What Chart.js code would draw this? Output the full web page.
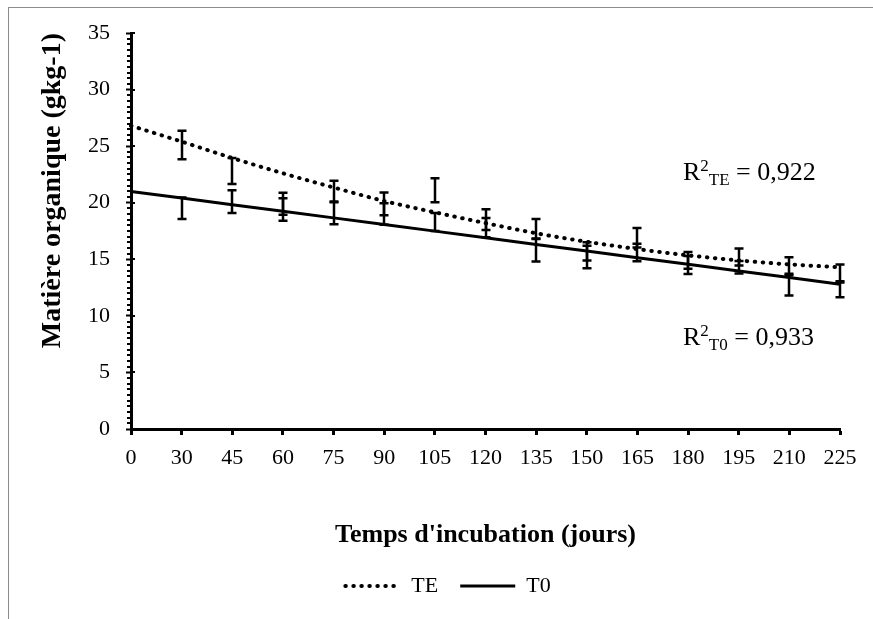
<!DOCTYPE html>
<html><head><meta charset="utf-8">
<script src="https://cdn.jsdelivr.net/npm/chart.js@4.4.0/dist/chart.umd.min.js"></script>
<style>
html,body{margin:0;padding:0;background:#fff;overflow:hidden;}
#wrap{position:relative;width:873px;height:619px;}
#frame{position:absolute;left:8px;top:7px;width:870px;height:620px;border:1px solid #8c8c8c;box-sizing:border-box;}
canvas{position:absolute;left:0;top:0;}
</style></head>
<body><div id="wrap"><div id="frame"></div><canvas id="c" width="873" height="619"></canvas></div>
<script>
// ---- data ----
const categories = ['0','30','45','60','75','90','105','120','135','150','165','180','195','210','225'];
const teMean = [null, 25.1, 22.8, 19.9, 21.0, 19.9, 21.1, 18.5, 17.7, 15.7, 16.9, 14.9, 15.2, 14.45, 13.8];
const teErr  = [null, 1.25, 1.15, 0.97, 0.95, 1.0, 1.07, 0.92, 0.87, 0.8, 0.86, 0.74, 0.75, 0.72, 0.75];
const t0Mean = [null, 19.5, 20.1, 19.4, 19.1, 19.0, 18.3, 17.8, 15.8, 15.2, 15.6, 14.5, 14.3, 12.7, 12.3];
const t0Err  = [null, 0.95, 1.0, 1.0, 1.0, 0.95, 0.8, 0.86, 1.0, 1.0, 0.78, 0.79, 0.55, 0.9, 0.65];
const teTrend = [26.8, 25.4, 23.95, 22.6, 21.35, 20.15, 19.15, 18.2, 17.3, 16.55, 15.9, 15.35, 14.9, 14.55, 14.3];
const t0Trend = [21.0, 20.41, 19.83, 19.24, 18.66, 18.07, 17.49, 16.9, 16.31, 15.73, 15.14, 14.56, 13.97, 13.39, 12.8];
const yTicksMin = 0, yTicksMax = 35, yStep = 5, yMinorStep = 0.5;
const r2Labels = [
  {sub: 'TE', value: ' = 0,922'},
  {sub: 'T0', value: ' = 0,933'}
];

const FONT = "'Liberation Serif', 'Times New Roman', serif";

const errorBarPlugin = {
  id: 'errorBars',
  afterDatasetsDraw(chart) {
    const {ctx, scales: {x, y}} = chart;
    ctx.save();
    ctx.strokeStyle = '#000';
    ctx.lineWidth = 2.5;
    chart.data.datasets.forEach(ds => {
      if (!ds.errors) return;
      ds.data.forEach((v, i) => {
        if (v == null) return;
        const e = ds.errors[i];
        const px = Math.round(x.getPixelForValue(i));
        const yt = y.getPixelForValue(v + e), yb = y.getPixelForValue(v - e);
        ctx.beginPath();
        ctx.moveTo(px, yt); ctx.lineTo(px, yb);
        ctx.moveTo(px - 4.5, yt); ctx.lineTo(px + 4.5, yt);
        ctx.moveTo(px - 4.5, yb); ctx.lineTo(px + 4.5, yb);
        ctx.stroke();
      });
    });
    ctx.restore();
  }
};

const minorTickPlugin = {
  id: 'minorTicks',
  afterDraw(chart) {
    const {ctx, scales: {y}} = chart;
    const left = chart.chartArea.left;
    ctx.save();
    ctx.strokeStyle = '#000';
    ctx.lineWidth = 2;
    ctx.beginPath();
    for (let v = yTicksMin; v <= yTicksMax + 1e-9; v += yMinorStep) {
      const py = Math.round(y.getPixelForValue(v));
      if (Math.abs(v / yStep - Math.round(v / yStep)) < 1e-9) {
        ctx.moveTo(left, py); ctx.lineTo(left + 4, py);
      } else {
        ctx.moveTo(left - 4, py); ctx.lineTo(left, py);
      }
    }
    ctx.stroke();
    ctx.restore();
  }
};

const r2Plugin = {
  id: 'r2Text',
  afterDraw(chart) {
    const {ctx, scales: {x, y}} = chart;
    const anchors = [{xi: 10.9, yv: 22.05}, {xi: 10.9, yv: 7.45}];
    ctx.save();
    ctx.fillStyle = '#000';
    ctx.textBaseline = 'alphabetic';
    ctx.textAlign = 'left';
    r2Labels.forEach((lab, k) => {
      let px = x.getPixelForValue(anchors[k].xi);
      const py = y.getPixelForValue(anchors[k].yv);
      ctx.font = '26px ' + FONT;
      ctx.fillText('R', px, py); px += ctx.measureText('R').width;
      ctx.font = '17px ' + FONT;
      ctx.fillText('2', px, py - 9); px += ctx.measureText('2').width;
      ctx.fillText(lab.sub, px, py + 5); px += ctx.measureText(lab.sub).width;
      ctx.font = '26px ' + FONT;
      ctx.fillText(lab.value, px, py);
    });
    ctx.restore();
  }
};

const legendShift = {
  id: 'legendShift',
  afterLayout(chart) {
    const lg = chart.legend;
    if (lg) { lg.left += 24; lg.right += 24; }
  }
};

new Chart(document.getElementById('c'), {
  type: 'line',
  data: {
    labels: categories,
    datasets: [
      {label: 'TE', data: teTrend, borderColor: '#000', backgroundColor: '#000', borderWidth: 4,
       borderDash: [0.5, 7.5], borderCapStyle: 'round', pointRadius: 0, cubicInterpolationMode: 'monotone', fill: false},
      {label: 'T0', data: t0Trend, borderColor: '#000', backgroundColor: '#000', borderWidth: 3,
       pointRadius: 0, tension: 0, fill: false},
      {label: 'TE mesures', data: teMean, errors: teErr, showLine: false, pointRadius: 0, borderColor: '#000'},
      {label: 'T0 mesures', data: t0Mean, errors: t0Err, showLine: false, pointRadius: 0, borderColor: '#000'}
    ]
  },
  options: {
    responsive: false,
    animation: false,
    devicePixelRatio: 1,
    layout: {padding: {left: 8, top: 33, right: 33, bottom: 12}},
    plugins: {
      tooltip: {enabled: false},
      legend: {
        position: 'bottom',
        labels: {
          filter: item => item.datasetIndex < 2,
          generateLabels(chart) {
            const items = Chart.defaults.plugins.legend.labels.generateLabels(chart);
            items.forEach(it => {
              const ds = chart.data.datasets[it.datasetIndex];
              it.lineDash = ds.borderDash || [];
              it.lineCap = ds.borderCapStyle || 'butt';
              it.lineWidth = ds.borderWidth;
              it.strokeStyle = '#000';
              it.pointStyle = 'line';
            });
            return items;
          },
          usePointStyle: true, pointStyle: 'line', pointStyleWidth: 55,
          color: '#000', font: {family: FONT, size: 22}, padding: 22
        }
      }
    },
    scales: {
      x: {
        type: 'category', offset: false,
        grid: {drawOnChartArea: false, drawTicks: true, tickLength: 6, tickWidth: 3, color: '#000'},
        border: {display: true, color: '#000', width: 3},
        ticks: {color: '#000', font: {family: FONT, size: 22}, padding: 10, maxRotation: 0, autoSkip: false},
        title: {display: true, text: "Temps d'incubation (jours)", color: '#000',
                font: {family: FONT, size: 26, weight: 'bold'}, padding: {top: 0, bottom: 2}},
        afterFit: s => { s.height = 124; }
      },
      y: {
        min: yTicksMin, max: yTicksMax,
        grid: {drawOnChartArea: false, drawTicks: true, tickLength: 5, tickWidth: 2, color: '#000'},
        border: {display: true, color: '#000', width: 3},
        ticks: {stepSize: yStep, color: '#000', font: {family: FONT, size: 22}, padding: 16},
        title: {display: true, text: 'Matière organique (gkg-1)', color: '#000', align: 'end',
                font: {family: FONT, size: 28, weight: 'bold'}, padding: {top: 28, bottom: 0}},
        afterFit: s => { s.width = 123; }
      }
    }
  },
  plugins: [errorBarPlugin, minorTickPlugin, r2Plugin, legendShift]
});
</script>
</body></html>
